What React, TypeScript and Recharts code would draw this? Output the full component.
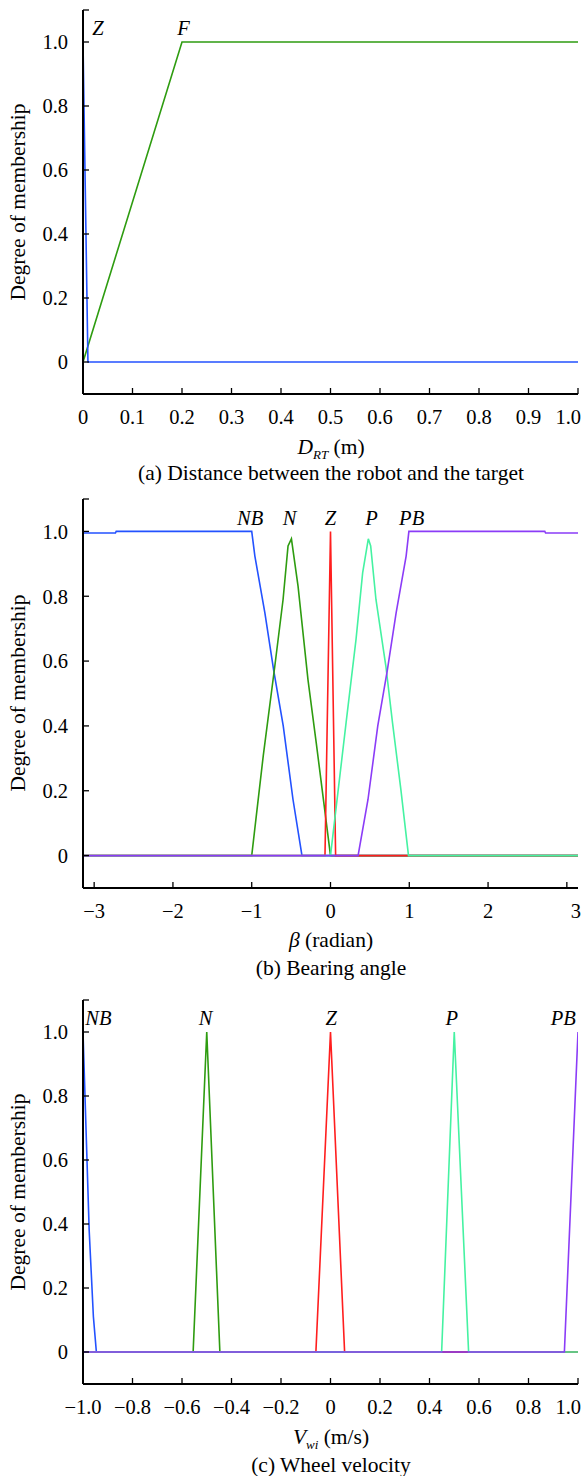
import React from 'react';
import { LineChart, Line, XAxis, YAxis, ReferenceDot } from 'recharts';

const FONT = "'Liberation Serif', 'Times New Roman', Times, serif";

// ---------- Panel (a): distance D_RT ----------
const A_X_TICKS = [0, 0.1, 0.2, 0.3, 0.4, 0.5, 0.6, 0.7, 0.8, 0.9, 1.0];
const A_Z: [number, number][] = [[0, 1], [0.01, 0], [1, 0]];
const A_F: [number, number][] = [[0, 0], [0.2, 1], [1, 1]];
const A_LABELS: [string, number, number][] = [['Z', 0.03, 1.045], ['F', 0.203, 1.045]];

// ---------- Panel (b): bearing angle ----------
const B_X_TICKS = [-3, -2, -1, 0, 1, 2, 3];
const B_NB: [number, number][] = [[-Math.PI, 0.995], [-2.73, 0.995], [-2.72, 1], [-1.0, 1], [-0.96, 0.924], [-0.833, 0.749], [-0.72, 0.57], [-0.6, 0.4], [-0.476, 0.173], [-0.362, 0], [Math.PI, 0]];
const B_N: [number, number][] = [[-Math.PI, 0], [-1.0, 0], [-0.854, 0.307], [-0.707, 0.584], [-0.602, 0.79], [-0.539, 0.955], [-0.496, 0.977], [-0.412, 0.831], [-0.286, 0.543], [-0.181, 0.348], [0, 0], [Math.PI, 0]];
const B_Z: [number, number][] = [[-Math.PI, 0], [-0.07, 0], [0, 1], [0.065, 0], [Math.PI, 0]];
const B_P: [number, number][] = [[-Math.PI, 0], [0, 0], [0.198, 0.41], [0.324, 0.667], [0.408, 0.872], [0.48, 0.977], [0.51, 0.955], [0.577, 0.79], [0.703, 0.584], [0.787, 0.41], [0.893, 0.204], [0.99, 0], [Math.PI, 0]];
const B_PB: [number, number][] = [[-Math.PI, 0], [0.35, 0], [0.476, 0.173], [0.6, 0.4], [0.72, 0.57], [0.833, 0.749], [0.96, 0.924], [0.995, 1], [2.72, 1], [2.73, 0.995], [Math.PI, 0.995]];
const B_LABELS: [string, number, number][] = [['NB', -1.02, 1.04], ['N', -0.52, 1.04], ['Z', 0, 1.04], ['P', 0.52, 1.04], ['PB', 1.03, 1.04]];

// ---------- Panel (c): wheel velocity ----------
const C_X_TICKS = [-1.0, -0.8, -0.6, -0.4, -0.2, 0, 0.2, 0.4, 0.6, 0.8, 1.0];
const C_NB: [number, number][] = [[-1, 1], [-0.975, 0.38], [-0.958, 0.11], [-0.946, 0], [1, 0]];
const C_N: [number, number][] = [[-1, 0], [-0.555, 0], [-0.5, 1], [-0.447, 0], [1, 0]];
const C_Z: [number, number][] = [[-1, 0], [-0.059, 0], [0, 1], [0.057, 0], [1, 0]];
const C_P: [number, number][] = [[-1, 0], [0.449, 0], [0.5, 1], [0.558, 0], [1, 0]];
const C_PB: [number, number][] = [[-1, 0], [0.945, 0], [1, 1]];
const C_LABELS: [string, number, number][] = [['NB', -0.938, 1.043], ['N', -0.505, 1.043], ['Z', 0.003, 1.043], ['P', 0.49, 1.043], ['PB', 0.94, 1.043]];

const Y_TICKS = [0, 0.2, 0.4, 0.6, 0.8, 1.0, 1.1];

const BLUE = '#2352ff';
const GREEN = '#2e9c10';
const RED = '#ff1e1e';
const AQUA = '#45f2a2';
const PURPLE = '#8b3cf7';

const TICK_FS = 20.5;
const LABEL_FS = 21.5;

const toData = (pts: [number, number][]) => pts.map(([x, y]) => ({ x, y }));

const yFmt = (v: number) => (v === 0 ? '0' : v > 1.05 ? '' : v.toFixed(1));
const minus = (s: string) => s.replace('-', '\u2212');

type Series = { pts: [number, number][]; color: string; name: string };

interface PanelProps {
  top: number;
  plotTop: number;
  plotBottom: number;
  domain: [number, number];
  xTicks: number[];
  xFmt: (v: number) => string;
  series: Series[];
  labels: [string, number, number][];
}

const LetterShape = (text: string) => (p: any) => (
  <text
    x={p.cx}
    y={p.cy}
    textAnchor="middle"
    dominantBaseline="central"
    fontFamily={FONT}
    fontStyle="italic"
    fontSize={TICK_FS}
    fill="#000"
  >
    {text}
  </text>
);

const makeXTick = (fmt: (v: number) => string) => (p: any) => {
  const label = fmt(p.payload.value);
  const nearRight = p.x > 560;
  return (
    <text
      x={nearRight ? 581 : p.x}
      y={p.y}
      dy="0.71em"
      textAnchor={nearRight ? 'end' : 'middle'}
      fontFamily={FONT}
      fontSize={TICK_FS}
      fill="#000"
    >
      {label}
    </text>
  );
};

const YTick = (p: any) => (
  <text x={p.x} y={p.y} dy="0.355em" textAnchor="end" fontFamily={FONT} fontSize={TICK_FS} fill="#000">
    {yFmt(p.payload.value)}
  </text>
);

function Panel({ top, plotTop, plotBottom, domain, xTicks, xFmt, series, labels }: PanelProps) {
  const XH = 40;
  const mTop = plotTop - top;
  const height = mTop + (plotBottom - plotTop) + XH;
  return (
    <div style={{ position: 'absolute', left: 0, top, width: 582, height }}>
      <LineChart width={582} height={height} margin={{ top: mTop, right: 4, bottom: 0, left: 0 }}>
        <XAxis
          type="number"
          dataKey="x"
          domain={domain}
          ticks={xTicks}
          interval={0}
          allowDataOverflow
          height={XH}
          axisLine={{ stroke: '#000', strokeWidth: 2 }}
          tickLine={{ stroke: '#000', strokeWidth: 1.3 }}
          tickSize={-6}
          tickMargin={21}
          tick={makeXTick(xFmt)}
        />
        <YAxis
          type="number"
          dataKey="y"
          domain={[-0.1, 1.1]}
          ticks={Y_TICKS}
          interval={0}
          allowDataOverflow
          width={83}
          axisLine={{ stroke: '#000', strokeWidth: 2 }}
          tickLine={{ stroke: '#000', strokeWidth: 1.3 }}
          tickSize={-6}
          tickMargin={21}
          tick={YTick}
        />
        {series.map((s) => (
          <Line
            key={s.name}
            data={toData(s.pts)}
            dataKey="y"
            type="linear"
            stroke={s.color}
            strokeWidth={1.6}
            dot={false}
            activeDot={false}
            isAnimationActive={false}
          />
        ))}
        {labels.map(([t, x, y]) => (
          <ReferenceDot key={t} x={x} y={y} r={0} ifOverflow="visible" shape={LetterShape(t)} />
        ))}
      </LineChart>
    </div>
  );
}

function Overlay() {
  const yLabel = (cy: number) => (
    <text fontFamily={FONT} fontSize={LABEL_FS} fill="#000" x={18} y={cy} textAnchor="middle" dominantBaseline="central" transform={`rotate(-90 18 ${cy})`}>
      Degree of membership
    </text>
  );
  const T = (props: any) => <text fontFamily={FONT} fontSize={LABEL_FS} fill="#000" textAnchor="middle" {...props} />;
  return (
    <svg width={582} height={1476} style={{ position: 'absolute', left: 0, top: 0, pointerEvents: 'none' }}>
      {yLabel(202)}
      {yLabel(693)}
      {yLabel(1192)}
      <T x={331} y={454}>
        <tspan fontStyle="italic">D</tspan>
        <tspan fontStyle="italic" fontSize={13} dy={5}>RT</tspan>
        <tspan dy={-5}> (m)</tspan>
      </T>
      <T x={331} y={480}>(a) Distance between the robot and the target</T>
      <T x={331} y={947}>
        <tspan fontStyle="italic">β</tspan>
        <tspan> (radian)</tspan>
      </T>
      <T x={331} y={975}>(b) Bearing angle</T>
      <T x={331} y={1444}>
        <tspan fontStyle="italic">V</tspan>
        <tspan fontStyle="italic" fontSize={13} dy={5}>wi</tspan>
        <tspan dy={-5}> (m/s)</tspan>
      </T>
      <T x={331} y={1472}>(c) Wheel velocity</T>
    </svg>
  );
}

export default function App() {
  return (
    <div style={{ position: 'absolute', left: 0, top: 0, width: 582, height: 1476, background: '#fff', overflow: 'hidden' }}>
      <Panel
        top={0}
        plotTop={10}
        plotBottom={394}
        domain={[0, 1]}
        xTicks={A_X_TICKS}
        xFmt={(v) => (v === 0 ? '0' : v.toFixed(1))}
        series={[
          { name: 'F', pts: A_F, color: GREEN },
          { name: 'Z', pts: A_Z, color: BLUE },
        ]}
        labels={A_LABELS}
      />
      <Panel
        top={489}
        plotTop={499}
        plotBottom={888}
        domain={[-Math.PI, Math.PI]}
        xTicks={B_X_TICKS}
        xFmt={(v) => minus(String(v))}
        series={[
          { name: 'NB', pts: B_NB, color: BLUE },
          { name: 'N', pts: B_N, color: GREEN },
          { name: 'Z', pts: B_Z, color: RED },
          { name: 'P', pts: B_P, color: AQUA },
          { name: 'PB', pts: B_PB, color: PURPLE },
        ]}
        labels={B_LABELS}
      />
      <Panel
        top={990}
        plotTop={1000}
        plotBottom={1384}
        domain={[-1, 1]}
        xTicks={C_X_TICKS}
        xFmt={(v) => (v === 0 ? '0' : minus(v.toFixed(1)))}
        series={[
          { name: 'NB', pts: C_NB, color: BLUE },
          { name: 'N', pts: C_N, color: GREEN },
          { name: 'Z', pts: C_Z, color: RED },
          { name: 'P', pts: C_P, color: AQUA },
          { name: 'PB', pts: C_PB, color: PURPLE },
        ]}
        labels={C_LABELS}
      />
      <Overlay />
    </div>
  );
}
